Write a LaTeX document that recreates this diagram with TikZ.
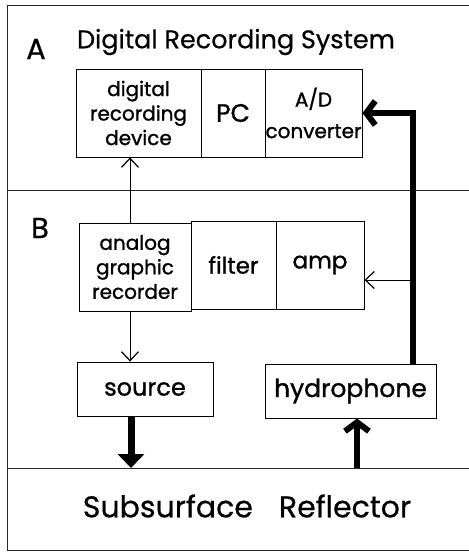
\documentclass[tikz,border=0pt]{standalone}
\usepackage{fontspec}
\setmainfont{Poppins}
\newfontfamily\boxfont[FakeBold=1.2]{Poppins}
\newfontfamily\headfont[FakeBold=0.6]{Poppins}
\usetikzlibrary{arrows.meta}
\begin{document}
\begin{tikzpicture}[x=1pt,y=-1pt,
  frame/.style={line width=0.8pt, black!85},
  blk/.style={draw, line width=0.9pt, inner sep=0pt, align=center, font=\boxfont\fontsize{20}{24.5}\selectfont},
  thinarrow/.style={line width=1pt, -{Straight Barb[length=9pt,width=17pt,line width=1.2pt]}},
  thickarrow/.style={line width=6.5pt, -{Straight Barb[length=9pt,width=24pt,line width=6pt]}},
  fatarrow/.style={line width=7pt, -{Triangle[length=14pt,width=26pt]}},
  lab/.style={inner sep=0pt, font=\headfont\fontsize{29}{30}\selectfont},
]
\useasboundingbox (0,0) rectangle (469,555);
% frame
\coordinate (tl) at (7,5);
\coordinate (tr) at (469,5);
\coordinate (bl) at (7,550);
\coordinate (br) at (469,550);
\coordinate (ml) at (7,190);
\coordinate (mr) at (469,190);
\coordinate (ll) at (7,468);
\coordinate (lr) at (469,468);
\draw[frame] (tr) -- (tl) -- (bl) -- (br);
\draw[frame] (ml) -- (mr);
\draw[frame] (ll) -- (lr);

% labels
\node[lab] (A) at (36,49) {A};
\node[lab] (B) at (40,228) {B};
\node[inner sep=0pt, font=\headfont\fontsize{25.5}{27}\selectfont] (title) at (236,42) {Digital Recording System};

% A boxes
\node[blk, minimum width=125pt, minimum height=88pt] (dig) at (138.5,113) {digital\\recording\\device};
\node[blk, minimum width=64pt, minimum height=88pt, font=\boxfont\fontsize{25}{27}\selectfont] (pc) at (233,113) {PC};
\node[blk, minimum width=97pt, minimum height=88pt] (ad) at (313.5,113) {A/D\\[7pt]converter};

% B boxes
\node[blk, minimum width=112pt, minimum height=88pt] (ana) at (135,267) {analog\\graphic\\recorder};
\node[blk, minimum width=85pt, minimum height=88pt, font=\boxfont\fontsize{23}{25}\selectfont] (fil) at (233.5,265) {filter};
\node[blk, minimum width=88pt, minimum height=88pt, font=\boxfont\fontsize{23}{25}\selectfont] (amp) at (320,265) {amp};

% lower boxes
\node[blk, minimum width=136pt, minimum height=54pt, font=\boxfont\fontsize{24}{26}\selectfont] (src) at (145,389) {source};
\node[blk, minimum width=171pt, minimum height=54pt, font=\boxfont\fontsize{25}{27}\selectfont] (hyd) at (350.5,391) {hydrophone};

% reflector
\node[inner sep=0pt, font=\headfont\fontsize{30}{32}\selectfont] (refl) at (247,506) {Subsurface\hspace{26pt}Reflector};

% connectors
\draw[thinarrow] ([xshift=-5pt]ana.north) -- ([xshift=-5pt]ana.north |- dig.south);
\draw[thinarrow] ([xshift=-5pt]ana.south) -- ([xshift=-5pt]ana.south |- src.north);
\draw[thickarrow] ([xshift=62.5pt]hyd.north) |- (ad.east);
\coordinate (branch) at ([xshift=62.5pt]hyd.north |- 0,280);
\draw[thinarrow] (branch) -- (branch -| amp.east);
\coordinate (sdown) at ([xshift=-14pt]src.south |- ll);
\draw[fatarrow] ([xshift=-14pt]src.south) -- (sdown);
\coordinate (hup) at ([xshift=6.5pt]hyd.south |- ll);
\draw[thickarrow] (hup) -- ([xshift=6.5pt]hyd.south);
\end{tikzpicture}
\end{document}
